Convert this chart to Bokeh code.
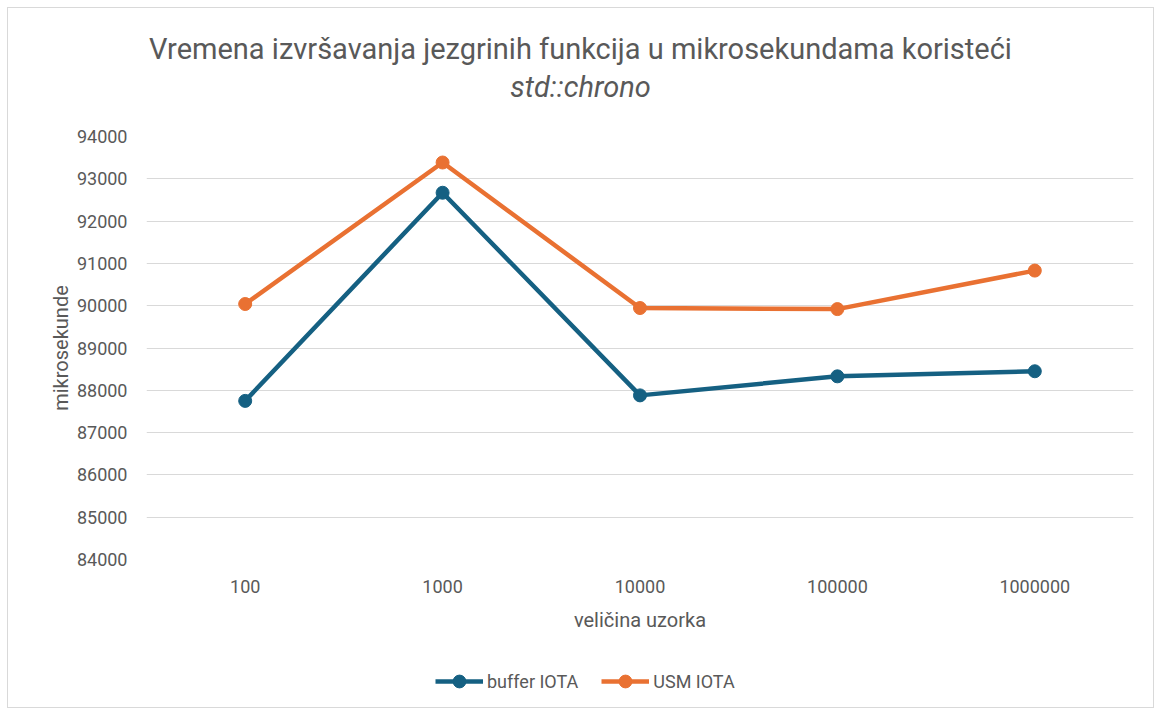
from bokeh.plotting import figure
from bokeh.models import Legend, LegendItem, FixedTicker, Div, Range1d
from bokeh.layouts import column
from bokeh.embed import file_html
from bokeh.resources import INLINE

categories = ["100", "1000", "10000", "100000", "1000000"]
buffer_iota = [87750, 92670, 87880, 88330, 88450]
usm_iota = [90040, 93385, 89945, 89920, 90830]
y_ticks = [84000, 85000, 86000, 87000, 88000, 89000, 90000, 91000, 92000, 93000, 94000]
series_names = ["buffer IOTA", "USM IOTA"]
title_main = "Vremena izvršavanja jezgrinih funkcija u mikrosekundama koristeći"
title_sub = "std::chrono"

BLUE = "#156082"
ORANGE = "#E97132"
TEXT = "#595959"
GRID = "#d9d9d9"
FONT = "Roboto"

W = 1145
TITLE_H = 100
LEG_H = 49
MAIN_H = 699 - TITLE_H - LEG_H

title_div = Div(
    text=(f'<div style="font-family:Roboto,sans-serif;font-size:29px;color:{TEXT};'
          f'text-align:center;line-height:38px;padding-top:22px;padding-left:8px;'
          f'width:{W - 8}px;">{title_main}<br><i>{title_sub}</i></div>'),
    width=W, height=TITLE_H, margin=0)

p = figure(x_range=categories, y_range=(84000, 94000), width=W, height=MAIN_H,
           output_backend="svg", toolbar_location=None, margin=0,
           min_border_left=138, min_border_right=20, min_border_top=28,
           min_border_bottom=MAIN_H - 28 - 423)
p.outline_line_color = None

series = [(buffer_iota, BLUE), (usm_iota, ORANGE)]
for vals, col in series:
    p.line(categories, vals, line_color=col, line_width=4.5)
    p.scatter(categories, vals, size=13, fill_color=col, line_color=col)

p.yaxis.ticker = FixedTicker(ticks=y_ticks)
for ax in (p.xaxis[0], p.yaxis[0]):
    ax.axis_line_color = None
    ax.major_tick_line_color = None
    ax.minor_tick_line_color = None
    ax.major_tick_in = 0
    ax.major_tick_out = 0
    ax.major_label_text_font = FONT
    ax.major_label_text_font_size = "18px"
    ax.major_label_text_color = TEXT
    ax.axis_label_text_font = FONT
    ax.axis_label_text_font_size = "20px"
    ax.axis_label_text_color = TEXT
    ax.axis_label_text_font_style = "normal"

p.yaxis.axis_label = "mikrosekunde"
p.yaxis.major_label_standoff = 19
p.yaxis.axis_label_standoff = 1
p.xaxis.axis_label = "veličina uzorka"
p.xaxis.major_label_standoff = 20
p.xaxis.axis_label_standoff = 12

p.xgrid.grid_line_color = None
p.ygrid.grid_line_color = GRID
p.ygrid.grid_line_width = 1

# legend strip below the chart (its renderers lie outside its visible range)
lp = figure(x_range=categories, y_range=Range1d(0, 1), width=W, height=LEG_H,
            output_backend="svg", toolbar_location=None, margin=0,
            x_axis_location=None, y_axis_location=None,
            min_border_left=0, min_border_right=0, min_border_top=0, min_border_bottom=0)
lp.outline_line_color = None
lp.grid.visible = False
items = []
for name, (vals, col) in zip(series_names, series):
    lr = lp.line(categories, vals, line_color=col, line_width=4.5)
    sr = lp.scatter(categories, vals, size=13, fill_color=col, line_color=col)
    items.append(LegendItem(label=name, renderers=[lr, sr]))

legend = Legend(items=items, orientation="horizontal", location=(289, 10),
                label_text_font=FONT, label_text_font_size="18px", label_text_color=TEXT,
                glyph_width=48, glyph_height=32, label_height=20, label_standoff=4,
                spacing=23, padding=0, margin=0, border_line_color=None,
                background_fill_alpha=0)
lp.add_layout(legend, "center")

layout = column(title_div, p, lp, spacing=0,
                styles={"border": "1px solid #d9d9d9", "margin": "7px 0 0 7px",
                        "background-color": "white"})

open("out.html", "w").write(file_html(layout, INLINE))
